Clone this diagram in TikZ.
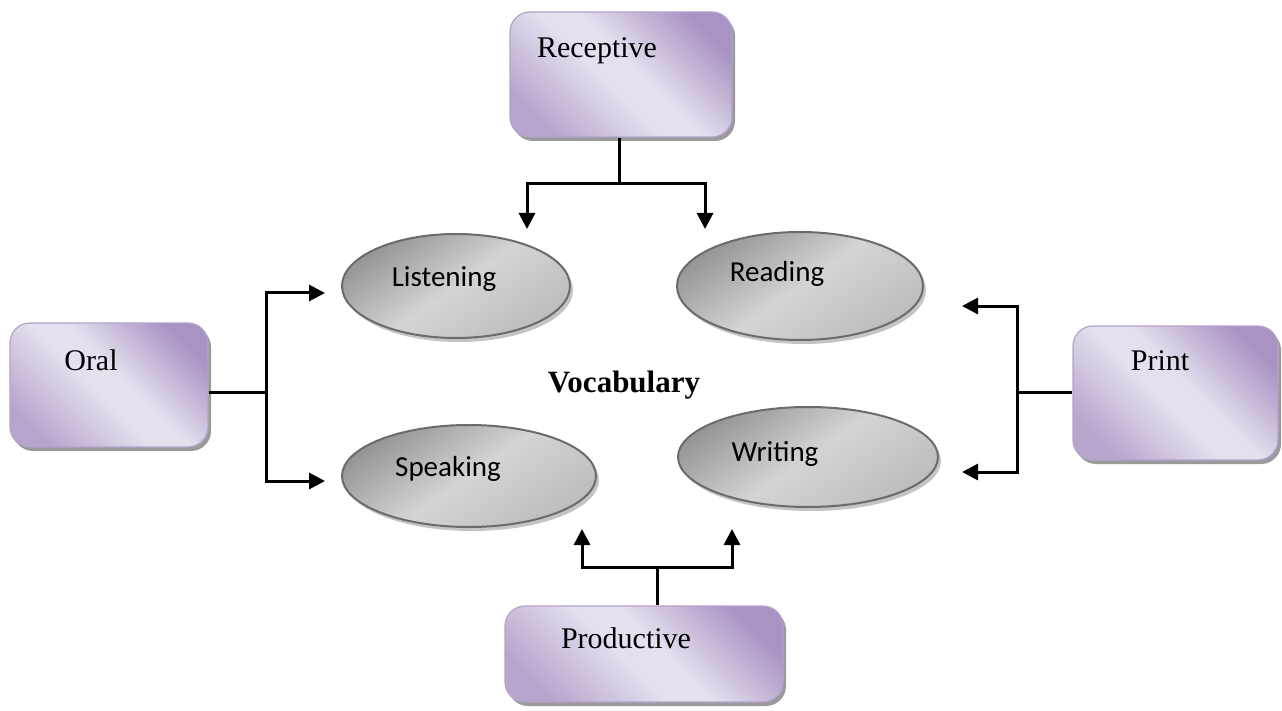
\documentclass[tikz,border=0pt]{standalone}
\usepackage{fontspec}
\setmainfont{Liberation Serif}
\newfontfamily\calib{Carlito}
\usetikzlibrary{arrows.meta,shapes.geometric,shadows}

\definecolor{boxlight}{HTML}{E6E0EE}
\definecolor{boxdark}{HTML}{A893C3}
\definecolor{boxlow}{HTML}{B6A6CD}
\definecolor{boxline}{HTML}{B3A3CB}
\definecolor{boxshadow}{HTML}{9A9A9A}
\definecolor{ellline}{HTML}{6B6B6B}
\definecolor{elldark}{HTML}{959595}
\definecolor{elllight}{HTML}{D4D4D4}
\definecolor{ellmid}{HTML}{BDBDBD}
\definecolor{ellshadow}{HTML}{C4C4C4}

\pgfdeclareverticalshading{boxshade}{100bp}{color(0bp)=(boxlow); color(24bp)=(boxlow); color(46bp)=(boxlight); color(54bp)=(boxlight); color(76bp)=(boxdark); color(100bp)=(boxdark)}

\tikzset{
  catbox/.style={draw=boxline, line width=1.2pt, rounded corners=20pt,
    shading=boxshade, shading angle=-45, inner sep=0pt,
    drop shadow={shadow xshift=3pt, shadow yshift=-4pt, fill=boxshadow, opacity=1}},
  ellnode/.style={ellipse, draw=ellline, line width=2pt, inner sep=0pt,
    top color=elldark, bottom color=ellmid, middle color=elllight,
    shading angle=35,
    drop shadow={shadow xshift=3pt, shadow yshift=-4pt, fill=ellshadow, opacity=1}},
  boxtxt/.style={font=\fontsize{30}{36}\selectfont, anchor=base, inner sep=0pt},
  elltxt/.style={font=\calib\fontsize{29}{34}\selectfont, anchor=base, inner sep=0pt},
  conn/.style={line width=3pt, black},
  arr/.style={conn, -{Triangle[length=16pt,width=16pt]}}
}

\begin{document}
\begin{tikzpicture}[x=1pt,y=-1pt]
\useasboundingbox (0,0) rectangle (1282,711);

% category boxes
\node[catbox, minimum width=222pt, minimum height=125pt] (rec) at (621,74.5) {};
\node[catbox, minimum width=198pt, minimum height=124pt] (oral) at (109,385) {};
\node[catbox, minimum width=278pt, minimum height=96pt] (prod) at (644,654) {};
\node[catbox, minimum width=205pt, minimum height=134pt] (print) at (1175.5,393) {};

\node[boxtxt] (rect) at (597,58) {Receptive};
\node[boxtxt] (oralt) at (91,370) {Oral};
\node[boxtxt] (prodt) at (626,648) {Productive};
\node[boxtxt] (printt) at (1160,370) {Print};

% skill ellipses
\node[ellnode, minimum width=228pt, minimum height=104pt] (lis) at (456,286) {};
\node[ellnode, minimum width=246pt, minimum height=108pt] (rea) at (800,286) {};
\node[ellnode, minimum width=254pt, minimum height=102pt] (spe) at (469,476) {};
\node[ellnode, minimum width=260pt, minimum height=100pt] (wri) at (808,457) {};

\node[elltxt] (list) at (444,287) {Listening};
\node[elltxt] (reat) at (777,282) {Reading};
\node[elltxt] (spet) at (448,476) {Speaking};
\node[elltxt] (writ) at (775,461) {Writing};

\node[font=\bfseries\fontsize{31}{37}\selectfont, anchor=base, inner sep=0pt] (voc) at (624,392) {Vocabulary};

% Receptive connectors
\coordinate (recJ) at (619,184);
\coordinate (recL) at (527,229);
\coordinate (recR) at (705,229);
\draw[conn] (rec.south -| recJ) -- (recJ);
\draw[arr] (recJ) -| (recL);
\draw[arr] (recJ) -| (recR);

% Oral connectors
\coordinate (oralJ) at (266,392);
\coordinate (oralT) at (325,293);
\coordinate (oralB) at (325,481);
\draw[conn] (oral.east |- oralJ) -- (oralJ);
\draw[arr] (oralJ) |- (oralT);
\draw[arr] (oralJ) |- (oralB);

% Productive connectors
\coordinate (prodJ) at (657,567);
\coordinate (prodL) at (582,529);
\coordinate (prodR) at (732,529);
\draw[conn] (prod.north -| prodJ) -- (prodJ);
\draw[arr] (prodJ) -| (prodL);
\draw[arr] (prodJ) -| (prodR);

% Print connectors
\coordinate (printJ) at (1017,392);
\coordinate (printT) at (962,306);
\coordinate (printB) at (962,472);
\draw[conn] (print.west |- printJ) -- (printJ);
\draw[arr] (printJ) |- (printT);
\draw[arr] (printJ) |- (printB);
\end{tikzpicture}
\end{document}
